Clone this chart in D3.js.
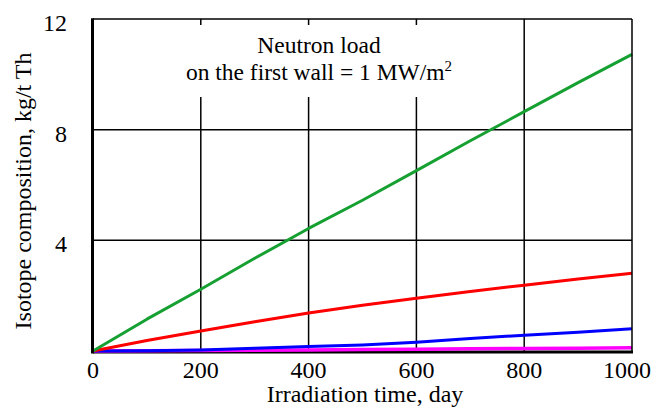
<!DOCTYPE html>
<html>
<head>
<meta charset="utf-8">
<script src="https://cdn.jsdelivr.net/npm/d3@7"></script>
<style>
  html, body { margin: 0; padding: 0; background: #fff; }
  svg { display: block; }
</style>
</head>
<body>
<svg id="chart" width="654" height="407"></svg>
<script>
// ---- data ----
const days = [0, 100, 200, 300, 400, 500, 600, 700, 800, 900, 1000];
const greenSeries   = [0, 1.15, 2.23, 3.35, 4.43, 5.45, 6.52, 7.6, 8.65, 9.7, 10.72];
const redSeries     = [0, 0.38, 0.72, 1.06, 1.37, 1.65, 1.91, 2.15, 2.38, 2.6, 2.81];
const blueSeries    = [0, 0.01, 0.04, 0.1, 0.16, 0.22, 0.32, 0.45, 0.57, 0.68, 0.8];
const magentaSeries = [0, 0.01, 0.02, 0.03, 0.04, 0.05, 0.06, 0.08, 0.09, 0.1, 0.12];
const xTicks = [0, 200, 400, 600, 800, 1000];
const yTicks = [4, 8, 12];
const xTitle = "Irradiation time, day";
const yTitle = "Isotope composition, kg/t Th";
const noteLine1 = "Neutron load";
const noteLine2 = "on the first wall = 1 MW/m";

const series = [
  { values: magentaSeries, color: "#ff00ff", width: 3.5 },
  { values: blueSeries, color: "#0000ff", width: 3 },
  { values: redSeries, color: "#ff0000", width: 3 },
  { values: greenSeries, color: "#16a032", width: 3 }
];

const FONT = "'Liberation Serif', Tinos, 'Times New Roman', Times, 'DejaVu Serif', serif";

// ---- layout ----
const svg = d3.select("#chart");
const pL = 93, pR = 632, pT = 19, pB = 351;
const x = d3.scaleLinear().domain([0, 1000]).range([pL, pR]);
const y = d3.scaleLinear().domain([0, 12]).range([pB, pT]);

// grid
const grid = svg.append("g");
grid.selectAll("line.h").data(yTicks.filter(d => d < 12)).enter().append("line")
  .attr("x1", pL).attr("x2", pR)
  .attr("y1", d => y(d)).attr("y2", d => y(d))
  .attr("stroke", "#000").attr("stroke-width", 1.5);
grid.selectAll("line.v").data(xTicks.filter(d => d > 0 && d < 1000)).enter().append("line")
  .attr("x1", d => x(d)).attr("x2", d => x(d))
  .attr("y1", pT).attr("y2", pB)
  .attr("stroke", "#000").attr("stroke-width", 1.5);

// white annotation box covering the grid
svg.append("rect").attr("x", 131).attr("y", 25).attr("width", 384).attr("height", 72)
  .attr("fill", "#fff");

// bottom axis line first (magenta drawn over it)
svg.append("line").attr("x1", pL).attr("x2", pR + 1)
  .attr("y1", pB + 1).attr("y2", pB + 1)
  .attr("stroke", "#000").attr("stroke-width", 3);

const line = d3.line().x((d, i) => x(days[i])).y(d => y(d));
series.forEach(s => {
  svg.append("path").datum(s.values)
    .attr("d", line)
    .attr("fill", "none")
    .attr("stroke", s.color)
    .attr("stroke-width", s.width)
    .attr("stroke-linejoin", "round");
});

// frame
svg.append("line").attr("x1", pL).attr("x2", pR).attr("y1", pT).attr("y2", pT)
  .attr("stroke", "#000").attr("stroke-width", 1.5);
svg.append("line").attr("x1", pR).attr("x2", pR).attr("y1", pT).attr("y2", pB + 2)
  .attr("stroke", "#000").attr("stroke-width", 1.5);
svg.append("line").attr("x1", pL - 0.5).attr("x2", pL - 0.5).attr("y1", pT - 0.75).attr("y2", pB + 2.5)
  .attr("stroke", "#000").attr("stroke-width", 3);

const txt = svg.append("g").style("font-family", FONT).attr("fill", "#000");

// tick labels
txt.selectAll("text.xt").data(xTicks).enter().append("text")
  .attr("x", d => d === 1000 ? 651 : x(d)).attr("y", 378)
  .attr("text-anchor", d => d === 1000 ? "end" : "middle").attr("font-size", 24)
  .text(d => d);
txt.selectAll("text.yt").data(yTicks).enter().append("text")
  .attr("x", 67).attr("y", d => y(d) + 12)
  .attr("text-anchor", "end").attr("font-size", 24)
  .text(d => d);

// titles
txt.append("text").attr("x", 365).attr("y", 402)
  .attr("text-anchor", "middle").attr("font-size", 24).text(xTitle);
txt.append("text")
  .attr("transform", "translate(31,191) rotate(-90)")
  .attr("text-anchor", "middle").attr("font-size", 24).text(yTitle);

// annotation
txt.append("text").attr("x", 319).attr("y", 53)
  .attr("text-anchor", "middle").attr("font-size", 23.5).text(noteLine1);
const n2 = txt.append("text").attr("x", 319).attr("y", 80)
  .attr("text-anchor", "middle").attr("font-size", 23.5);
n2.append("tspan").text(noteLine2);
n2.append("tspan").attr("dy", -9).attr("font-size", 15).text("2");
</script>
</body>
</html>
